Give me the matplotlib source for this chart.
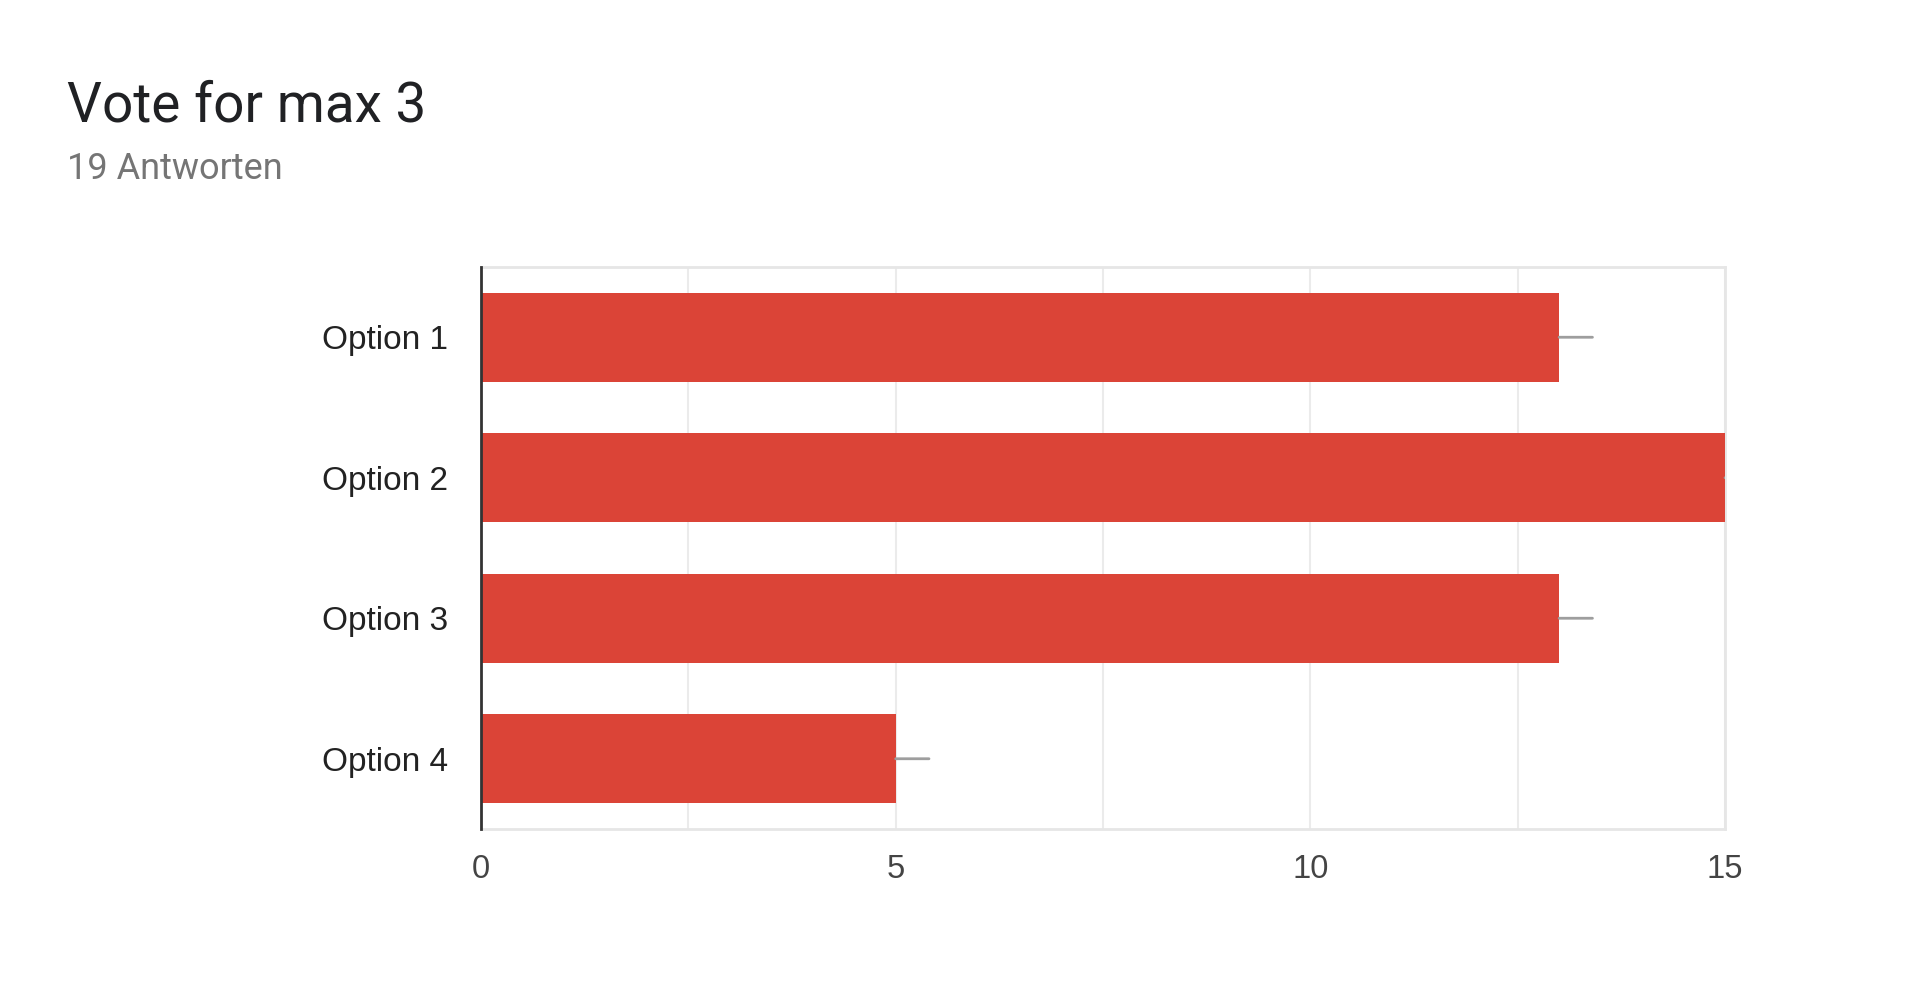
import matplotlib
matplotlib.use("Agg")
import matplotlib.pyplot as plt

title = "Vote for max 3"
subtitle = "19 Antworten"
categories = ["Option 1", "Option 2", "Option 3", "Option 4"]
values = [13, 15, 13, 5]
xticks = [0, 5, 10, 15]
xgrid = [2.5, 5, 7.5, 10, 12.5, 15]

W, H = 1920, 996
fig = plt.figure(figsize=(W / 100, H / 100), dpi=100)
fig.patch.set_facecolor("white")

ax = fig.add_axes([481 / W, 1 - 829 / H, (1725 - 481) / W, (829 - 267) / H])
ypos = list(range(len(categories)))
ax.barh(ypos, values, height=0.63, color="#DB4437", zorder=3)
ax.set_xlim(0, 15)
ax.set_ylim(len(categories) - 0.5, -0.5)

for x in xgrid:
    ax.axvline(x, color="#ebebeb", lw=1.5, zorder=1)

ax.set_yticks(ypos)
ax.set_yticklabels(categories, fontsize=24, family="Liberation Sans", color="#222222")
ax.set_xticks(xticks)
ax.set_xticklabels([str(t) for t in xticks], fontsize=23.5, family="Liberation Sans", color="#444444")
ax.tick_params(axis="both", length=0)
ax.tick_params(axis="y", pad=24)
ax.tick_params(axis="x", pad=18)

for s in ["top", "right", "bottom"]:
    ax.spines[s].set_color("#e6e6e6")
    ax.spines[s].set_linewidth(2)
ax.spines["left"].set_color("#333333")
ax.spines["left"].set_linewidth(2)
ax.spines["left"].set_zorder(5)

# annotation stems
for y, v in zip(ypos, values):
    ann = ax.annotate("", xy=(v, y), xytext=(24, 0), textcoords="offset points",
                      arrowprops=dict(arrowstyle="-", color="#9e9e9e", lw=2,
                                      shrinkA=0, shrinkB=0))
    ann.arrow_patch.set_clip_box(ax.bbox)
    ann.arrow_patch.set_clip_on(True)

fig.text(67 / W, 1 - 122 / H, title, fontsize=39.5, family="Roboto",
         color="#202124", va="baseline", ha="left")
fig.text(67 / W, 1 - 179 / H, subtitle, fontsize=26, family="Roboto",
         color="#757575", va="baseline", ha="left")

fig.savefig("out.png", dpi=100, facecolor="white")
